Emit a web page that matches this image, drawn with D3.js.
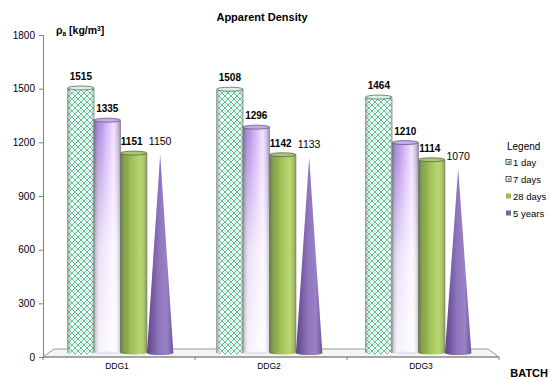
<!DOCTYPE html>
<html>
<head>
<meta charset="utf-8">
<script src="https://cdn.jsdelivr.net/npm/d3@7"></script>
<style>
  body { margin: 0; background: #fff; }
  svg text { font-family: "Liberation Sans", Arial, sans-serif; fill: #000; }
</style>
</head>
<body>
<div id="chart"></div>
<script>
// values
var categories = ["DDG1", "DDG2", "DDG3"];
var seriesNames = ["1 day", "7 days", "28 days", "5 years"];
var day1 = [1515, 1508, 1464];
var day7 = [1335, 1296, 1210];
var day28 = [1151, 1142, 1114];
var year5 = [1150, 1133, 1070];
var yTicks = [0, 300, 600, 900, 1200, 1500, 1800];

var width = 550, height = 379;

var svg = d3.select("#chart").append("svg")
    .attr("width", width)
    .attr("height", height);

var defs = svg.append("defs");

// lattice pattern for the 1 day cylinders
var pat = defs.append("pattern")
    .attr("id", "lattice")
    .attr("patternUnits", "userSpaceOnUse")
    .attr("width", 6).attr("height", 6);
pat.append("rect").attr("width", 6).attr("height", 6).attr("fill", "#fff");
pat.append("path")
    .attr("d", "M0,3 L3,0 L6,3 L3,6 Z")
    .attr("fill", "none").attr("stroke", "#45c084").attr("stroke-width", 0.9);
pat.append("circle").attr("cx", 3).attr("cy", 3).attr("r", 1.1).attr("fill", "#c4eed8");

function hGrad(id, stops) {
    var g = defs.append("linearGradient").attr("id", id)
        .attr("x1", "0%").attr("x2", "100%").attr("y1", "0%").attr("y2", "0%");
    stops.forEach(function (s) {
        g.append("stop").attr("offset", s[0]).attr("stop-color", s[1])
            .attr("stop-opacity", s[2] == undefined ? 1 : s[2]);
    });
}
hGrad("g7", [["0%", "#8a6cc4"], ["45%", "#d2b0fa"], ["75%", "#f1e2ff"], ["100%", "#b49bd6"]]);
hGrad("g28", [["0%", "#6a8a2c"], ["40%", "#9fbf58"], ["75%", "#b9d670"], ["100%", "#98b655"]]);
hGrad("g5", [["0%", "#5f4488"], ["45%", "#8e74bd"], ["75%", "#9a82c6"], ["100%", "#6f5598"]]);
hGrad("shade", [["0%", "#555", 0.4], ["25%", "#fff", 0], ["80%", "#fff", 0], ["100%", "#555", 0.3]]);

// 7 days fades to white toward the bottom
var vg = defs.append("linearGradient").attr("id", "fade")
    .attr("x1", "0%").attr("x2", "0%").attr("y1", "0%").attr("y2", "100%");
vg.append("stop").attr("offset", "0%").attr("stop-color", "#fff").attr("stop-opacity", 0);
vg.append("stop").attr("offset", "55%").attr("stop-color", "#fff").attr("stop-opacity", 0.75);
vg.append("stop").attr("offset", "100%").attr("stop-color", "#fff").attr("stop-opacity", 0.9);

// axis edges and bar groups (groups sit a little tighter than the axis bands)
var xEdge = d3.scaleLinear().domain([0, categories.length]).range([43, 499]);
var x0 = d3.scaleBand().domain(categories).range([46, 493])
    .paddingInner(0.29).paddingOuter(0.145);
var x1 = d3.scaleBand().domain(seriesNames).range([0, x0.bandwidth()]);
var y = d3.scaleLinear().domain([0, 1800]).range([357, 35]);

var base = y(0) - 4;

// floor
svg.append("path")
    .attr("d", "M43," + y(0) + " L54," + (y(0) - 8) + " L488," + (y(0) - 8) + " L499," + y(0) + " Z")
    .attr("fill", "#f4f4f4").attr("stroke", "#9a9a9a").attr("stroke-width", 1);

// y axis
var yAxis = svg.append("g")
    .attr("transform", "translate(43,0)")
    .call(d3.axisLeft(y).tickValues(yTicks).tickFormat(d3.format("d")).tickSize(4).tickPadding(4));
yAxis.select(".domain").attr("stroke", "#808080");
yAxis.selectAll(".tick line").attr("stroke", "#808080");
yAxis.selectAll("text").style("font-size", "10px");

// x axis line with ticks on band edges
svg.append("line").attr("x1", xEdge(0)).attr("x2", xEdge(categories.length))
    .attr("y1", y(0)).attr("y2", y(0)).attr("stroke", "#808080");
d3.range(categories.length + 1).forEach(function (i) {
    svg.append("line").attr("x1", xEdge(i)).attr("x2", xEdge(i)).attr("y1", y(0)).attr("y2", y(0) + 3)
        .attr("stroke", "#808080");
});
svg.selectAll(".cat").data(categories).enter().append("text")
    .attr("class", "cat")
    .attr("x", function (d, i) { return xEdge(i + 0.5) - 2; })
    .attr("y", 369)
    .attr("text-anchor", "middle")
    .style("font-size", "8.5px")
    .text(function (d) { return d; });

var bw = x1.bandwidth();

function cylinder(g, x, top, fill, topFill, fade) {
    g.append("rect").attr("x", x).attr("y", top).attr("width", bw).attr("height", base - top)
        .attr("fill", fill);
    if (fade) {
        g.append("rect").attr("x", x).attr("y", top).attr("width", bw).attr("height", base - top)
            .attr("fill", "url(#fade)");
    }
    g.append("rect").attr("x", x).attr("y", top).attr("width", bw).attr("height", base - top)
        .attr("fill", "url(#shade)");
    g.append("ellipse").attr("cx", x + bw / 2).attr("cy", base).attr("rx", bw / 2).attr("ry", 1.5)
        .attr("fill", fade ? "#e8e4ee" : fill);
    g.append("line").attr("x1", x).attr("x2", x).attr("y1", top).attr("y2", base)
        .attr("stroke", "#777").attr("stroke-width", 0.6);
    g.append("line").attr("x1", x + bw).attr("x2", x + bw).attr("y1", top).attr("y2", base)
        .attr("stroke", "#777").attr("stroke-width", 0.6);
    g.append("ellipse").attr("cx", x + bw / 2).attr("cy", top).attr("rx", bw / 2).attr("ry", 2)
        .attr("fill", topFill).attr("stroke", "#555").attr("stroke-width", 0.7);
}

var cylSeries = [
    { vals: day1, fill: "url(#lattice)", top: "#d6f2e2", fade: false },
    { vals: day7, fill: "url(#g7)", top: "#c7a8f0", fade: true },
    { vals: day28, fill: "url(#g28)", top: "#a9c866", fade: false }
];

categories.forEach(function (c, ci) {
    var g = svg.append("g");
    cylSeries.forEach(function (s, si) {
        var x = x0(c) + x1(seriesNames[si]);
        var top = y(s.vals[ci]) + 2;
        cylinder(g, x, top, s.fill, s.top, s.fade);
        g.append("text")
            .attr("x", x + bw / 2 - (si == 2 ? 2 : 0))
            .attr("y", top - 8)
            .attr("text-anchor", "middle")
            .style("font-size", "10px").style("font-weight", "bold")
            .text(s.vals[ci]);
    });
    // cone for 5 years
    var cx = x0(c) + x1(seriesNames[3]);
    var apex = y(year5[ci]) + 3;
    g.append("path")
        .attr("d", "M" + (cx + bw / 2) + "," + apex + " L" + (cx + bw) + "," + base +
            " A" + (bw / 2) + ",2 0 0 1 " + cx + "," + base + " Z")
        .attr("fill", "url(#g5)");
    g.append("text")
        .attr("x", cx + bw / 2)
        .attr("y", apex - 9)
        .attr("text-anchor", "middle")
        .style("font-size", "10.5px")
        .text(year5[ci]);
});

// titles
svg.append("text").attr("x", 262).attr("y", 21).attr("text-anchor", "middle")
    .style("font-size", "11px").style("font-weight", "bold").text("Apparent Density");

var yl = svg.append("text").attr("x", 56).attr("y", 34)
    .style("font-size", "10.5px").style("font-weight", "bold");
yl.append("tspan").text("ρ");
yl.append("tspan").attr("dy", 2).style("font-size", "6.5px").text("a");
yl.append("tspan").attr("dy", -2).text(" [kg/m");
yl.append("tspan").attr("dy", -3).style("font-size", "6.5px").text("3");
yl.append("tspan").attr("dy", 3).text("]");

svg.append("text").attr("x", 548).attr("y", 377).attr("text-anchor", "end")
    .style("font-size", "11px").style("font-weight", "bold").text("BATCH");

// legend (kept just inside the right edge)
var leg = svg.append("g");
leg.append("text").attr("x", 507).attr("y", 150).style("font-size", "10px").text("Legend");
var legFill = ["#3dbb7c", "#b48ae8", "#9bbb59", "#8064a2"];
seriesNames.forEach(function (s, i) {
    var cy = 162 + i * 17;
    if (i < 2) {
        leg.append("rect").attr("x", 506).attr("y", cy - 2.5).attr("width", 5).attr("height", 5)
            .attr("fill", "#fff").attr("stroke", "#333").attr("stroke-width", 0.8);
        leg.append("rect").attr("x", 507.5).attr("y", cy - 1).attr("width", 2.5).attr("height", 2.5)
            .attr("fill", legFill[i]);
    } else {
        leg.append("rect").attr("x", 506).attr("y", cy - 2.5).attr("width", 5).attr("height", 5)
            .attr("fill", legFill[i]);
    }
    leg.append("text").attr("x", 513).attr("y", cy + 4).style("font-size", "9.5px").text(s);
});
</script>
</body>
</html>
